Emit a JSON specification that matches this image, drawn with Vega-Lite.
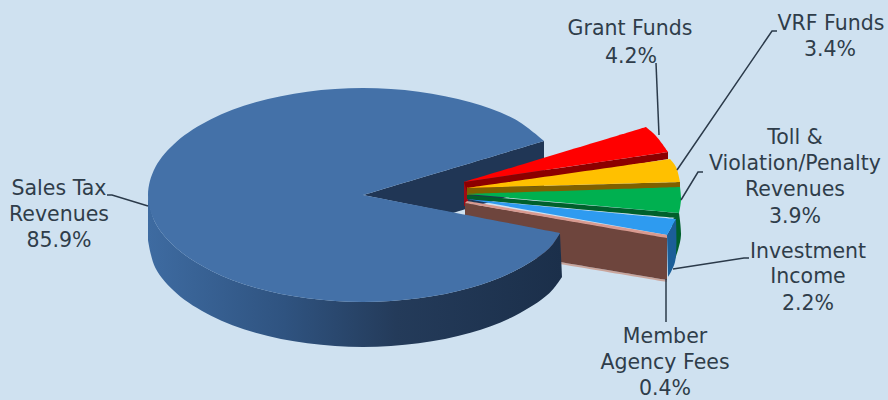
{
"$schema":"https://vega.github.io/schema/vega-lite/v6.json",
"width":888,"height":400,"padding":0,"autosize":{"type":"none"},
"background":"#cfe1f0",
"config":{"view":{"stroke":null}},
"datasets":{
"backWall":[
{"part":"notch","x":363,"y":195},{"part":"notch","x":363,"y":195},{"part":"notch","x":544,"y":141},{"part":"notch","x":544,"y":141},{"part":"notch","x":544,"y":186},{"part":"notch","x":544,"y":186},{"part":"notch","x":453,"y":213},{"part":"notch","x":453,"y":213}
],
"slices":[
{"part":"Grant edge","x":464,"y":181},{"part":"Grant edge","x":464,"y":181},{"part":"Grant edge","x":468,"y":187},{"part":"Grant edge","x":468,"y":187},{"part":"Grant edge","x":468,"y":206},{"part":"Grant edge","x":468,"y":206},{"part":"Grant edge","x":464,"y":206},{"part":"Grant edge","x":464,"y":206},
{"part":"Grant wall","x":464,"y":182},{"part":"Grant wall","x":464,"y":182},{"part":"Grant wall","x":668,"y":152},{"part":"Grant wall","x":668,"y":152},{"part":"Grant wall","x":668,"y":159},{"part":"Grant wall","x":668,"y":159},{"part":"Grant wall","x":467,"y":192},{"part":"Grant wall","x":467,"y":192},
{"part":"Grant top","x":464,"y":182},{"part":"Grant top","x":464,"y":182},{"part":"Grant top","x":646,"y":127},{"part":"Grant top","x":646,"y":127},{"part":"Grant top","x":656,"y":136},{"part":"Grant top","x":668,"y":152},{"part":"Grant top","x":668,"y":152},
{"part":"VRF wall","x":467,"y":188},{"part":"VRF wall","x":467,"y":188},{"part":"VRF wall","x":680,"y":182},{"part":"VRF wall","x":680,"y":182},{"part":"VRF wall","x":680,"y":188},{"part":"VRF wall","x":680,"y":188},{"part":"VRF wall","x":467,"y":195},{"part":"VRF wall","x":467,"y":195},
{"part":"VRF top","x":467,"y":188},{"part":"VRF top","x":467,"y":188},{"part":"VRF top","x":670,"y":159},{"part":"VRF top","x":670,"y":159},{"part":"VRF top","x":676,"y":167},{"part":"VRF top","x":680,"y":182},{"part":"VRF top","x":680,"y":182},
{"part":"Toll side","x":679,"y":213},{"part":"Toll side","x":679,"y":213},{"part":"Toll side","x":681,"y":235},{"part":"Toll side","x":678,"y":250},{"part":"Toll side","x":672,"y":267},{"part":"Toll side","x":672,"y":267},{"part":"Toll side","x":672,"y":220},{"part":"Toll side","x":672,"y":220},
{"part":"Toll wall","x":467,"y":195},{"part":"Toll wall","x":467,"y":195},{"part":"Toll wall","x":679,"y":213},{"part":"Toll wall","x":679,"y":213},{"part":"Toll wall","x":677,"y":218},{"part":"Toll wall","x":677,"y":218},{"part":"Toll wall","x":467,"y":199},{"part":"Toll wall","x":467,"y":199},
{"part":"Toll top","x":467,"y":194},{"part":"Toll top","x":467,"y":194},{"part":"Toll top","x":680,"y":187},{"part":"Toll top","x":680,"y":187},{"part":"Toll top","x":681,"y":200},{"part":"Toll top","x":679,"y":213},{"part":"Toll top","x":679,"y":213},
{"part":"Investment side","x":667,"y":235},{"part":"Investment side","x":667,"y":235},{"part":"Investment side","x":676,"y":219},{"part":"Investment side","x":676,"y":219},{"part":"Investment side","x":675,"y":262},{"part":"Investment side","x":668,"y":277},{"part":"Investment side","x":668,"y":277},
{"part":"Investment top","x":467,"y":199},{"part":"Investment top","x":467,"y":199},{"part":"Investment top","x":676,"y":219},{"part":"Investment top","x":676,"y":219},{"part":"Investment top","x":667,"y":235},{"part":"Investment top","x":667,"y":235},
{"part":"Member base","x":465,"y":246},{"part":"Member base","x":465,"y":246},{"part":"Member base","x":667,"y":280},{"part":"Member base","x":667,"y":280},{"part":"Member base","x":667,"y":282},{"part":"Member base","x":667,"y":282},{"part":"Member base","x":465,"y":248},{"part":"Member base","x":465,"y":248},
{"part":"Member wall","x":465,"y":203},{"part":"Member wall","x":465,"y":203},{"part":"Member wall","x":667,"y":237},{"part":"Member wall","x":667,"y":237},{"part":"Member wall","x":667,"y":280},{"part":"Member wall","x":667,"y":280},{"part":"Member wall","x":465,"y":246},{"part":"Member wall","x":465,"y":246},
{"part":"Member top","x":467,"y":201},{"part":"Member top","x":467,"y":201},{"part":"Member top","x":667,"y":235},{"part":"Member top","x":667,"y":235},{"part":"Member top","x":667,"y":238},{"part":"Member top","x":667,"y":238},{"part":"Member top","x":465,"y":203},{"part":"Member top","x":465,"y":203}
],
"mainWall":[
{"x":148,"y":195},{"x":148,"y":195},{"x":155.3,"y":222.7},{"x":176.8,"y":248.5},{"x":211,"y":270.7},{"x":255.5,"y":287.7},{"x":307.4,"y":298.3},{"x":363,"y":302},{"x":418.6,"y":298.3},{"x":470.5,"y":287.7},{"x":515,"y":270.7},{"x":549,"y":248.5},{"x":560,"y":233},{"x":560,"y":233},{"x":562,"y":277},{"x":562,"y":277},{"x":549,"y":293.5},{"x":515,"y":315.7},{"x":470.5,"y":332.7},{"x":418.6,"y":343.3},{"x":363,"y":347},{"x":307.4,"y":343.3},{"x":255.5,"y":332.7},{"x":211,"y":315.7},{"x":176.8,"y":293.5},{"x":155.3,"y":267.7},{"x":148,"y":240},{"x":148,"y":240}
],
"mainTop":[
{"x":363,"y":195},{"x":363,"y":195},{"x":544,"y":141},{"x":544,"y":141},{"x":515,"y":119.3},{"x":470.5,"y":102.3},{"x":418.6,"y":91.7},{"x":363,"y":88},{"x":307.4,"y":91.7},{"x":255.5,"y":102.3},{"x":211,"y":119.3},{"x":176.8,"y":141.5},{"x":155.3,"y":167.3},{"x":148,"y":195},{"x":155.3,"y":222.7},{"x":176.8,"y":248.5},{"x":211,"y":270.7},{"x":255.5,"y":287.7},{"x":307.4,"y":298.3},{"x":363,"y":302},{"x":418.6,"y":298.3},{"x":470.5,"y":287.7},{"x":515,"y":270.7},{"x":549,"y":248.5},{"x":560,"y":233},{"x":560,"y":233},{"x":363,"y":195},{"x":363,"y":195}
],
"leaders":[
{"slice":"Sales Tax","x":107,"y":195},{"slice":"Sales Tax","x":112,"y":195},{"slice":"Sales Tax","x":148,"y":206},
{"slice":"Grant","x":656,"y":63},{"slice":"Grant","x":659,"y":135},
{"slice":"VRF","x":777,"y":31},{"slice":"VRF","x":772,"y":31},{"slice":"VRF","x":677,"y":170},
{"slice":"Toll","x":703,"y":172},{"slice":"Toll","x":698,"y":172},{"slice":"Toll","x":681,"y":200},
{"slice":"Investment","x":749,"y":258},{"slice":"Investment","x":744,"y":258},{"slice":"Investment","x":673,"y":269},
{"slice":"Member","x":666,"y":279},{"slice":"Member","x":666,"y":322}
],
"labels":[
{"text":"Sales Tax","x":59,"y":189},{"text":"Revenues","x":59,"y":215},{"text":"85.9%","x":59,"y":241},
{"text":"Grant Funds","x":630,"y":29},{"text":"4.2%","x":631,"y":57},
{"text":"VRF Funds","x":831,"y":24},{"text":"3.4%","x":830,"y":50},
{"text":"Toll &","x":795,"y":138},{"text":"Violation/Penalty","x":795,"y":164},{"text":"Revenues","x":795,"y":190},{"text":"3.9%","x":795,"y":217},
{"text":"Investment","x":808,"y":252},{"text":"Income","x":808,"y":277},{"text":"2.2%","x":808,"y":304},
{"text":"Member","x":665,"y":337},{"text":"Agency Fees","x":665,"y":363},{"text":"0.4%","x":665,"y":389}
]
},
"encoding":{
"x":{"field":"x","type":"quantitative","axis":null,"scale":{"domain":[0,888],"nice":false,"zero":false}},
"y":{"field":"y","type":"quantitative","axis":null,"scale":{"domain":[400,0],"nice":false,"zero":false}}
},
"layer":[
{"data":{"name":"backWall"},
 "transform":[{"window":[{"op":"row_number","as":"seq"}]}],
 "mark":{"type":"line","interpolate":"catmull-rom","fill":"#203655","strokeWidth":0},
 "encoding":{"order":{"field":"seq","type":"quantitative"}}},
{"data":{"name":"slices"},
 "transform":[{"window":[{"op":"row_number","as":"seq"}]}],
 "mark":{"type":"line","interpolate":"catmull-rom","filled":true,"strokeWidth":0},
 "encoding":{
  "order":{"field":"seq","type":"quantitative"},
  "color":{"field":"part","type":"nominal","legend":null,"sort":null,"scale":{
   "domain":["Grant edge","Grant wall","Grant top","VRF wall","VRF top","Toll side","Toll wall","Toll top","Investment side","Investment top","Member base","Member wall","Member top"],
   "range":["#a00a14","#8c0000","#ff0000","#7f6000","#ffc000","#00602c","#00602c","#00b050","#1b5e98","#2e9bf0","#c9a59c","#6e453d","#d89a90"]}}
 }},
{"data":{"name":"mainWall"},
 "transform":[{"window":[{"op":"row_number","as":"seq"}]}],
 "mark":{"type":"line","interpolate":"catmull-rom","strokeWidth":0,"fill":{"x1":0,"x2":1,"y1":0,"y2":0,"gradient":"linear","stops":[{"offset":0,"color":"#3e6ba1"},{"offset":0.33,"color":"#2f5380"},{"offset":0.6,"color":"#243b5a"},{"offset":1,"color":"#1b2f4a"}]}},
 "encoding":{"order":{"field":"seq","type":"quantitative"}}},
{"data":{"name":"mainTop"},
 "transform":[{"window":[{"op":"row_number","as":"seq"}]}],
 "mark":{"type":"line","interpolate":"catmull-rom","fill":"#4471a8","strokeWidth":0},
 "encoding":{"order":{"field":"seq","type":"quantitative"}}},
{"data":{"name":"leaders"},
 "transform":[{"window":[{"op":"row_number","as":"seq"}]}],
 "mark":{"type":"line","stroke":"#2b3a4a","strokeWidth":1.5},
 "encoding":{"detail":{"field":"slice"},"order":{"field":"seq","type":"quantitative"}}},
{"data":{"name":"labels"},
 "mark":{"type":"text","font":"DejaVu Sans","fontSize":20.5,"align":"center","baseline":"middle","color":"#2f3d4a"},
 "encoding":{"text":{"field":"text"}}}
]
}
